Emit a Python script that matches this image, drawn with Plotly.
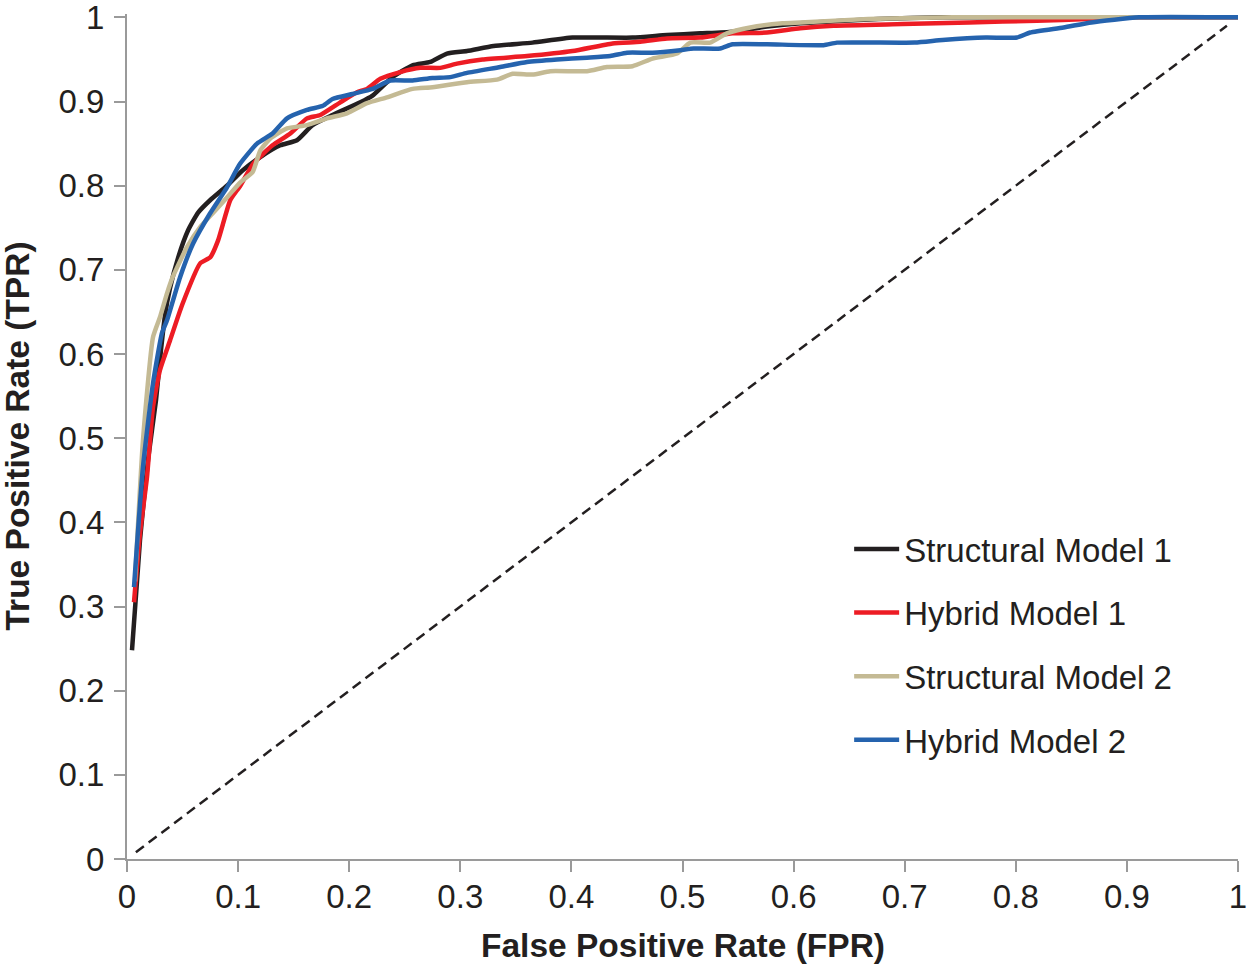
import plotly.graph_objects as go

# ---- data ----
s1_fpr = [0.0045, 0.0117, 0.0189, 0.0261, 0.0306, 0.0342, 0.0387, 0.0459, 0.055, 0.064,
          0.075, 0.09, 0.104, 0.12, 0.138, 0.153, 0.167, 0.185, 0.21, 0.221,
          0.239, 0.257, 0.273, 0.288, 0.306, 0.33, 0.365, 0.401, 0.455, 0.486,
          0.516, 0.545, 0.576, 0.606, 0.676, 0.734, 0.8, 0.9, 1.0]
s1_tpr = [0.248, 0.379, 0.474, 0.545, 0.605, 0.646, 0.678, 0.714, 0.747, 0.768,
          0.783, 0.800, 0.818, 0.834, 0.848, 0.854, 0.872, 0.884, 0.899, 0.907,
          0.929, 0.943, 0.947, 0.957, 0.960, 0.966, 0.970, 0.976, 0.976, 0.979,
          0.981, 0.983, 0.989, 0.993, 0.998, 1.0, 1.0, 1.0, 1.0]

h1_fpr = [0.0063, 0.0117, 0.018, 0.0234, 0.0297, 0.0387, 0.0495, 0.066, 0.075, 0.082,
          0.093, 0.102, 0.1135, 0.131, 0.147, 0.162, 0.174, 0.192, 0.207, 0.216,
          0.228, 0.246, 0.264, 0.282, 0.297, 0.32, 0.36, 0.401, 0.437, 0.462,
          0.486, 0.516, 0.545, 0.576, 0.606, 0.636, 0.698, 0.758, 0.819, 0.865,
          0.907, 1.0]
h1_tpr = [0.305, 0.387, 0.454, 0.537, 0.581, 0.616, 0.658, 0.708, 0.715, 0.735,
          0.783, 0.800, 0.826, 0.848, 0.862, 0.880, 0.884, 0.899, 0.911, 0.915,
          0.927, 0.935, 0.940, 0.940, 0.945, 0.950, 0.954, 0.960, 0.969, 0.971,
          0.975, 0.976, 0.981, 0.982, 0.987, 0.990, 0.992, 0.994, 0.996, 0.998,
          1.0, 1.0]

s2_fpr = [0.0072, 0.0144, 0.0234, 0.030, 0.036, 0.041, 0.054, 0.066, 0.077, 0.09,
          0.102, 0.113, 0.12, 0.129, 0.144, 0.162, 0.18, 0.198, 0.216, 0.234,
          0.257, 0.275, 0.306, 0.333, 0.347, 0.365, 0.381, 0.414, 0.432, 0.455,
          0.473, 0.495, 0.507, 0.525, 0.54, 0.561, 0.59, 0.606, 0.667, 0.743, 1.0]
s2_tpr = [0.330, 0.498, 0.620, 0.645, 0.672, 0.691, 0.727, 0.751, 0.767, 0.786,
          0.804, 0.816, 0.842, 0.856, 0.868, 0.872, 0.880, 0.886, 0.898, 0.905,
          0.915, 0.917, 0.923, 0.926, 0.933, 0.932, 0.936, 0.936, 0.941, 0.942,
          0.951, 0.957, 0.970, 0.970, 0.981, 0.988, 0.993, 0.994, 0.998, 1.0, 1.0]

h2_fpr = [0.0063, 0.0144, 0.0234, 0.0315, 0.036, 0.0477, 0.0594, 0.0747, 0.09, 0.1017,
          0.117, 0.131, 0.144, 0.162, 0.1764, 0.185, 0.203, 0.221, 0.237, 0.257,
          0.275, 0.291, 0.306, 0.336, 0.36, 0.387, 0.414, 0.435, 0.45, 0.473,
          0.498, 0.51, 0.534, 0.545, 0.576, 0.627, 0.639, 0.709, 0.734, 0.773,
          0.801, 0.813, 0.843, 0.868, 0.911, 1.0]
h2_tpr = [0.323, 0.466, 0.565, 0.625, 0.640, 0.691, 0.731, 0.767, 0.798, 0.826,
          0.850, 0.862, 0.880, 0.890, 0.895, 0.903, 0.909, 0.915, 0.925, 0.925,
          0.928, 0.929, 0.934, 0.941, 0.947, 0.950, 0.952, 0.954, 0.958, 0.958,
          0.961, 0.963, 0.963, 0.968, 0.968, 0.967, 0.970, 0.970, 0.973, 0.976,
          0.976, 0.982, 0.988, 0.994, 1.0, 1.0]

chance_fpr = [0.008, 0.99]
chance_tpr = [0.008, 0.99]

series = [
    ("Structural Model 1", s1_fpr, s1_tpr, "#231F20"),
    ("Hybrid Model 1", h1_fpr, h1_tpr, "#ED1C24"),
    ("Structural Model 2", s2_fpr, s2_tpr, "#C4BA94"),
    ("Hybrid Model 2", h2_fpr, h2_tpr, "#2563AE"),
]

tick_vals = [0, 0.1, 0.2, 0.3, 0.4, 0.5, 0.6, 0.7, 0.8, 0.9, 1]
tick_text = ["0", "0.1", "0.2", "0.3", "0.4", "0.5", "0.6", "0.7", "0.8", "0.9", "1"]

FONT = "Liberation Sans, Arial, Helvetica, sans-serif"
TXT = "#231F20"
AX = "#9A9A9A"

fig = go.Figure()
fig.add_trace(go.Scatter(x=chance_fpr, y=chance_tpr, mode="lines",
                         line=dict(color="#231F20", width=2.5, dash="10px,6px"),
                         showlegend=False, hoverinfo="skip"))
for i, (name, xs, ys, col) in enumerate(series):
    fig.add_trace(go.Scatter(x=xs, y=ys, mode="lines", name=name,
                             legendgroup=f"g{i}",
                             line=dict(color=col, width=4.5, shape="spline", smoothing=0.5)))

fig.update_layout(
    template="none",
    width=1247, height=964,
    margin=dict(l=127, r=9, t=14, b=105),
    paper_bgcolor="white", plot_bgcolor="white",
    font=dict(family=FONT, color=TXT, size=33),
    showlegend=True,
    legend=dict(x=0.650, xanchor="left", y=0.40, yanchor="top",
                font=dict(family=FONT, size=33, color=TXT),
                bgcolor="rgba(0,0,0,0)", borderwidth=0,
                tracegroupgap=17.7, itemwidth=45),
)
fig.update_xaxes(range=[0, 1], tickvals=tick_vals, ticktext=tick_text, automargin=False,
                 ticklabeloverflow="allow", ticklabelstandoff=-4,
                 showgrid=False, zeroline=False, showline=True, linecolor=AX, linewidth=2,
                 ticks="outside", ticklen=11, tickwidth=2, tickcolor=AX,
                 tickfont=dict(family=FONT, size=33, color=TXT))
fig.update_yaxes(range=[0, 1.004], tickvals=tick_vals, ticktext=tick_text, automargin=False,
                 ticklabeloverflow="allow",
                 showgrid=False, zeroline=False, showline=True, linecolor=AX, linewidth=2,
                 ticks="outside", ticklen=11, tickwidth=2, tickcolor=AX, ticklabelstandoff=3,
                 tickfont=dict(family=FONT, size=33, color=TXT))

fig.add_annotation(text="False Positive Rate (FPR)", xref="paper", yref="paper",
                   x=0.5, y=0, xanchor="center", yanchor="middle", yshift=-86,
                   showarrow=False, font=dict(family=FONT, size=33.5, color=TXT, weight="bold"))
fig.add_annotation(text="True Positive Rate (TPR)", xref="paper", yref="paper",
                   x=0, y=0.5, xanchor="center", yanchor="middle", xshift=-110, textangle=-90,
                   showarrow=False, font=dict(family=FONT, size=33.5, color=TXT, weight="bold"))

fig.write_html("out.html")
